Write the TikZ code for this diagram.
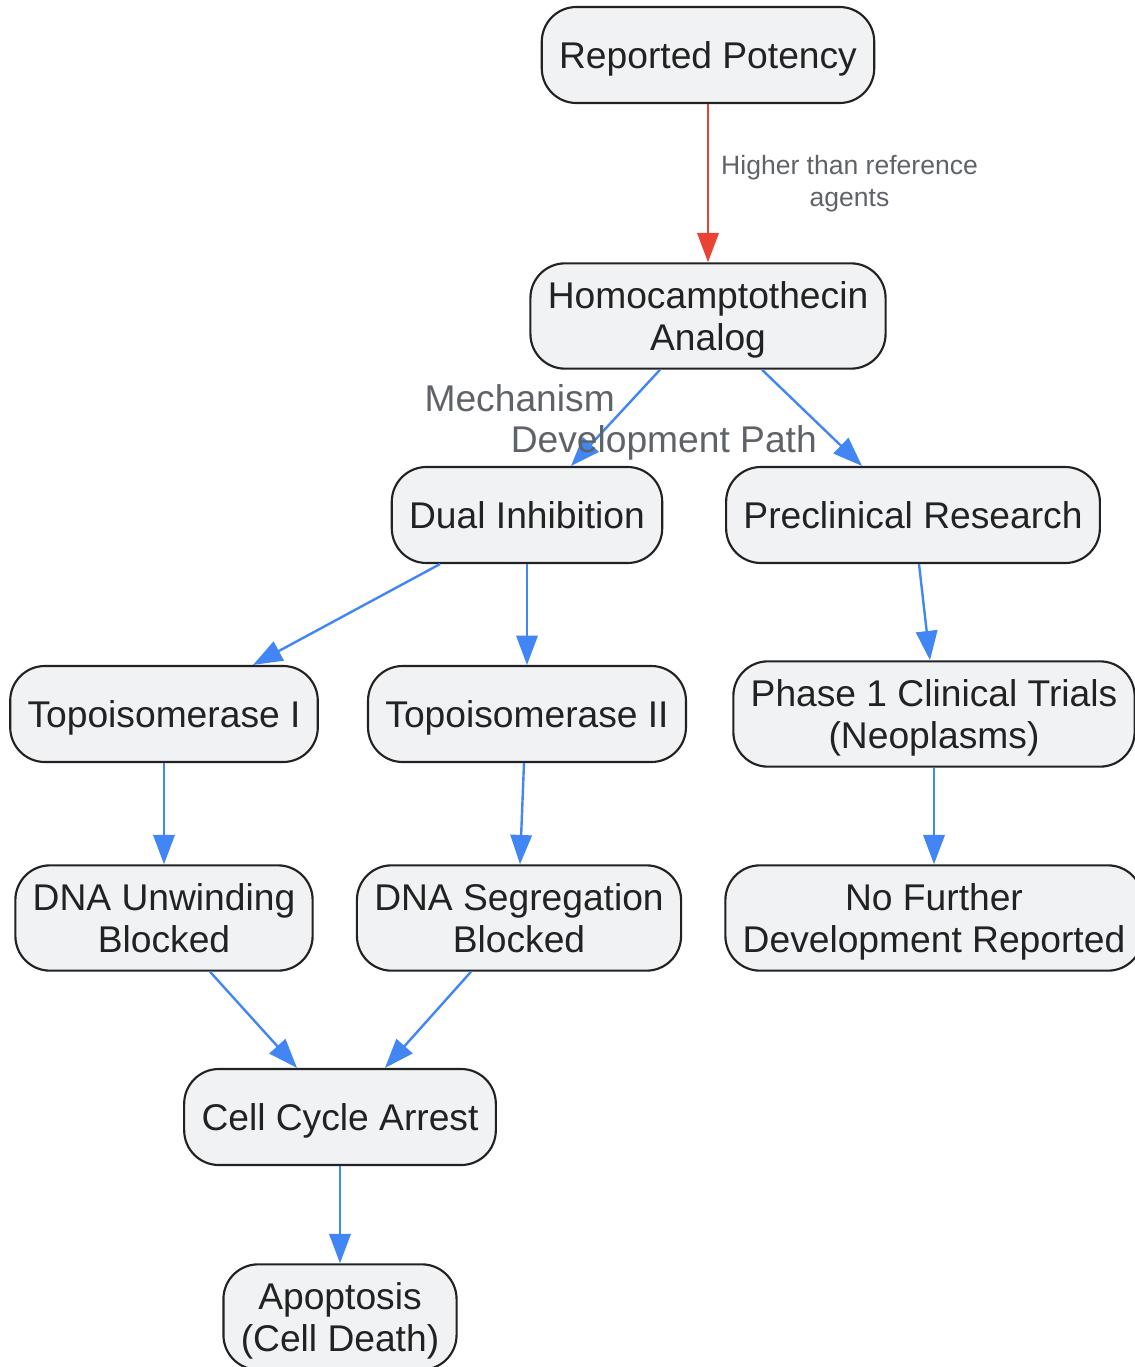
\documentclass[tikz,border=0pt]{standalone}
\usepackage{fontspec}
\setmainfont{Liberation Sans}
\usetikzlibrary{arrows.meta}
\definecolor{boxfill}{RGB}{241,242,244}
\definecolor{boxline}{RGB}{34,34,34}
\definecolor{flowblue}{RGB}{66,133,244}
\definecolor{flowred}{RGB}{234,67,53}
\definecolor{lblgray}{RGB}{95,99,104}
\begin{document}
\begin{tikzpicture}[x=0.75pt, y=-0.75pt, >={Triangle[length=22pt,width=16pt]},
  box/.style={draw=boxline, fill=boxfill, line width=1.6pt, rounded corners=26pt, minimum height=72pt, inner xsep=13pt, inner ysep=4pt, text depth=0pt, align=center, text=boxline, font=\fontsize{27.9}{31.5}\selectfont},
  tall/.style={box, minimum height=79pt},
  flow/.style={->, draw=flowblue, line width=1.8pt},
  lbl/.style={text=lblgray, align=center, font=\fontsize{27.9}{31.5}\selectfont}]
  \useasboundingbox (0,0) rectangle (1135,1367);
  \node[box] (potency) at (708,55) {Reported Potency};
  \node[tall] (analog) at (708,316) {Homocamptothecin\\Analog};
  \node[box] (dual) at (527,515) {Dual Inhibition};
  \node[box] (preclin) at (913,515) {Preclinical Research};
  \node[box] (topoI) at (164,714) {Topoisomerase I};
  \node[box] (topoII) at (527,714) {Topoisomerase II};
  \node[tall] (phase) at (934,714) {Phase 1 Clinical Trials\\(Neoplasms)};
  \node[tall] (unwind) at (164,918) {DNA Unwinding\\Blocked};
  \node[tall] (segreg) at (519,918) {DNA Segregation\\Blocked};
  \node[tall] (nofurther) at (934,918) {No Further\\Development Reported};
  \node[box] (arrest) at (340,1117) {Cell Cycle Arrest};
  \node[tall] (apoptosis) at (340,1317) {Apoptosis\\(Cell Death)};
  \draw[flow, draw=flowred] (potency) -- (analog) node[midway, right, inner sep=9pt, text=lblgray, align=center, font=\fontsize{19.9}{24}\selectfont] {Higher than reference\\agents};
  \draw[flow] ([xshift=-36pt]analog.south) -- ([xshift=33pt]dual.north) node[pos=0.3, left, lbl, inner sep=13pt] {Mechanism};
  \draw[flow] ([xshift=40.5pt]analog.south) -- ([xshift=-38.25pt]preclin.north) node[pos=0.76, left, lbl, inner sep=15pt] {Development Path};
  \draw[flow] ([xshift=-65.25pt]dual.south) -- ([xshift=66.75pt]topoI.north);
  \draw[flow] (dual) -- (topoII);
  \draw[flow] ([xshift=4.5pt]preclin.south) -- ([xshift=-3pt]phase.north);
  \draw[flow] (topoI) -- (unwind);
  \draw[flow] ([xshift=-2.25pt]topoII.south) -- ([xshift=0.75pt]segreg.north);
  \draw[flow] (phase) -- (nofurther);
  \draw[flow] ([xshift=34.5pt]unwind.south) -- ([xshift=-32.25pt]arrest.north);
  \draw[flow] ([xshift=-36pt]segreg.south) -- ([xshift=33.75pt]arrest.north);
  \draw[flow] (arrest) -- (apoptosis);
\end{tikzpicture}
\end{document}
